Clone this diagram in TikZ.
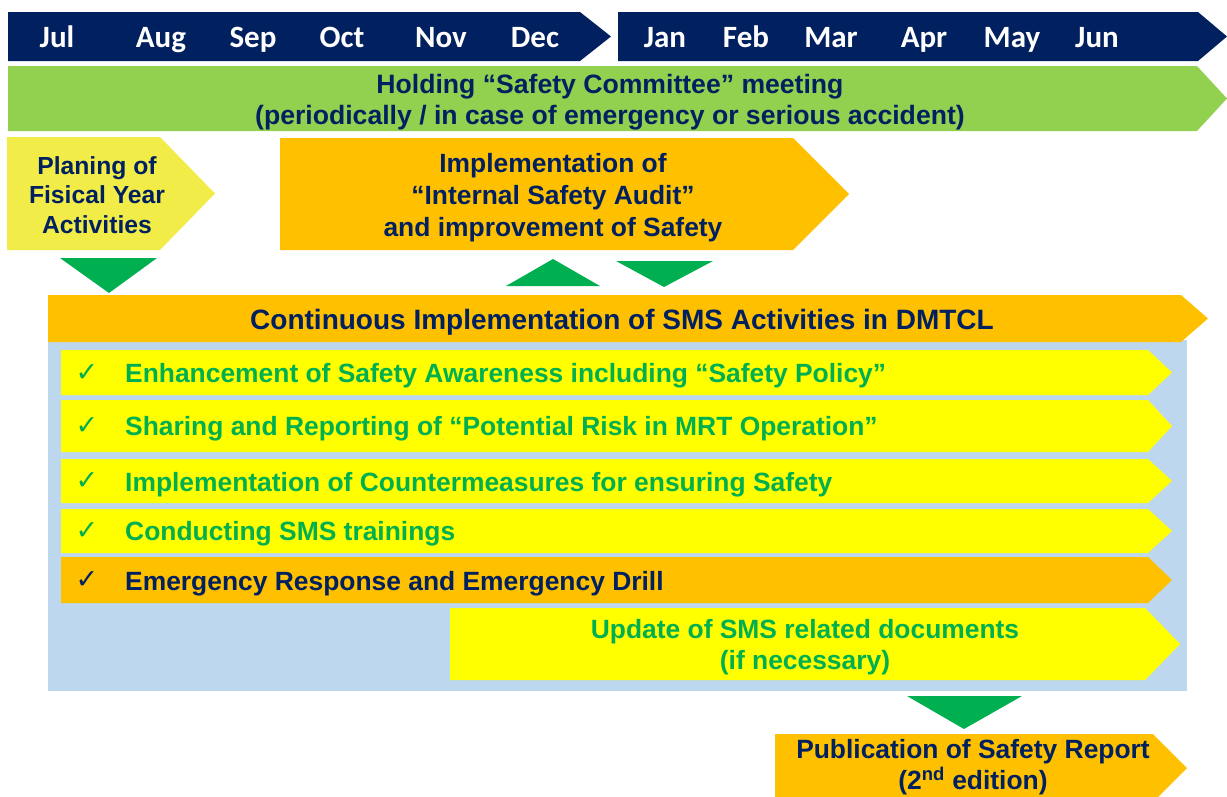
\documentclass[tikz,border=0pt]{standalone}
\usepackage{fontspec}
\setmainfont{Liberation Sans}
\newfontfamily\monthfont{Carlito}
\newfontfamily\symfont{DejaVu Sans}
\definecolor{navy}{HTML}{002060}
\definecolor{barnavy}{HTML}{002060}
\definecolor{lgreen}{HTML}{92D050}
\definecolor{planyel}{HTML}{F1EC47}
\definecolor{orng}{HTML}{FFC000}
\definecolor{lblue}{HTML}{BDD7EE}
\definecolor{yel}{HTML}{FFFF00}
\definecolor{grn}{HTML}{00B050}
\newcommand\abox[6]{\fill[#1] (#2,#3) -- (#4,#3) -- (#5,{(#3+#6)/2}) -- (#4,#6) -- (#2,#6) -- cycle;}
\tikzset{
  month/.style={text=white, font=\monthfont\bfseries\fontsize{31}{33}\selectfont, inner sep=0pt, anchor=base},
  btxt/.style={font=\bfseries\fontsize{26.4}{30}\selectfont, align=center, inner sep=0pt},
  rowtxt/.style={font=\bfseries\fontsize{26.4}{30}\selectfont, anchor=west, inner sep=0pt},
  chk/.style={font=\symfont\fontsize{27}{28}\selectfont, inner sep=0pt},
  tri/.style={fill=grn}
}
\begin{document}
\begin{tikzpicture}[x=1pt,y=-1pt]
\useasboundingbox (0,0) rectangle (1227,796);
% month bars
\abox{barnavy}{8}{12}{580}{611}{61}
\abox{barnavy}{618}{12}{1198}{1227}{61}
\foreach \m/\x in {Jul/57,Aug/161,Sep/253,Oct/342,Nov/441,Dec/535,Jan/665,Feb/746,Mar/831,Apr/924,May/1012,Jun/1097}
  \node[month] (m\m) at (\x,47) {\m};
% committee bar
\abox{lgreen}{8}{66}{1197}{1227}{131}
\node[btxt, text=navy, font=\bfseries\fontsize{26.6}{31}\selectfont] (hold) at (610,102) {Holding “Safety Committee” meeting\\(periodically / in case of emergency or serious accident)};
% planning
\abox{planyel}{7}{137}{160}{215}{250}
\node[btxt, text=navy, font=\bfseries\fontsize{24.7}{29.5}\selectfont] (plan) at (97,195) {Planing of\\Fisical Year\\Activities};
% internal audit
\abox{orng}{280}{138}{793}{849}{250}
\node[btxt, text=navy, font=\bfseries\fontsize{26.4}{32}\selectfont] (audit) at (553,198) {Implementation of\\“Internal Safety Audit”\\and improvement of Safety};
% triangles
\fill[tri] (60,258) -- (157,258) -- (109,293) -- cycle;
\fill[tri] (506,286) -- (600,286) -- (553,259) -- cycle;
\fill[tri] (616,261) -- (713,261) -- (664,287) -- cycle;
% continuous
\fill[lblue] (48,340) rectangle (1187,691);
\abox{orng}{48}{295}{1181}{1208}{342}
\node[btxt, text=navy, font=\bfseries\fontsize{28}{30}\selectfont] (cont) at (622,322) {Continuous Implementation of SMS Activities in DMTCL};
% rows
\abox{yel}{61}{350}{1148}{1172}{395}
\abox{yel}{61}{400}{1148}{1172}{452}
\abox{yel}{61}{459}{1148}{1172}{503}
\abox{yel}{61}{509}{1148}{1172}{553}
\abox{orng}{61}{557}{1148}{1172}{603}
\abox{yel}{450}{608}{1145}{1180}{680}
\node[chk, text=grn] (c1) at (87,373) {✓};
\node[chk, text=grn] (c2) at (87,426) {✓};
\node[chk, text=grn] (c3) at (87,481) {✓};
\node[chk, text=grn] (c4) at (87,531) {✓};
\node[chk, text=navy] (c5) at (87,580) {✓};
\node[rowtxt, text=grn] (r1) at (125,376) {Enhancement of Safety Awareness including “Safety Policy”};
\node[rowtxt, text=grn] (r2) at (125,429) {Sharing and Reporting of “Potential Risk in MRT Operation”};
\node[rowtxt, text=grn] (r3) at (125,485) {Implementation of Countermeasures for ensuring Safety};
\node[rowtxt, text=grn] (r4) at (125,534) {Conducting SMS trainings};
\node[rowtxt, text=navy] (r5) at (125,584) {Emergency Response and Emergency Drill};
\node[btxt, text=grn, font=\bfseries\fontsize{26.4}{31}\selectfont] (r6) at (805,647) {Update of SMS related documents\\(if necessary)};
% publication
\fill[tri] (907,696) -- (1022,696) -- (964,729) -- cycle;
\abox{orng}{775}{734}{1153}{1187}{802}
\node[btxt, text=navy, font=\bfseries\fontsize{26.4}{31}\selectfont] (pub) at (973,767) {Publication of Safety Report\\(2\textsuperscript{nd} edition)};
\end{tikzpicture}
\end{document}
